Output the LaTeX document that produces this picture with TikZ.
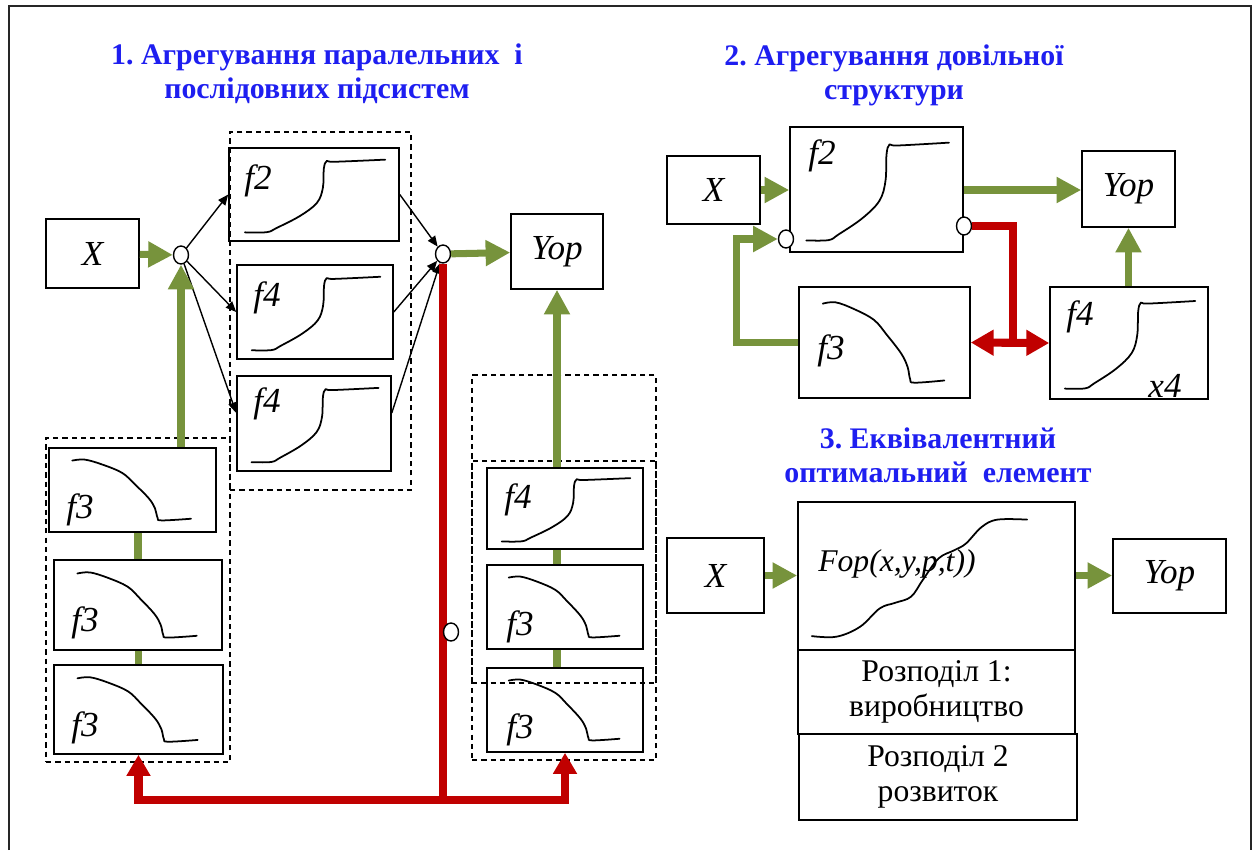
\documentclass[tikz,border=0pt]{standalone}
\usepackage{fontspec}
\setmainfont{Liberation Serif}
\usepackage{xcolor}
\usetikzlibrary{arrows.meta,fit,calc,shapes.geometric}

\definecolor{ttlblue}{RGB}{30,30,240}
\definecolor{fgreen}{RGB}{119,147,60}
\definecolor{fred}{RGB}{192,0,0}

% transfer curves, drawn in a unit box (y grows downwards)
\tikzset{
  sketchline/.style={line width=1pt, line cap=round},
  rise/.pic={\draw[sketchline] plot[smooth, tension=0.6] coordinates {(0.094,0.907) (0.222,0.905) (0.280,0.860) (0.418,0.730) (0.517,0.590) (0.552,0.430) (0.558,0.220) (0.575,0.140) (0.620,0.148) (0.919,0.125)};},
  fall/.pic={\draw[sketchline] plot[smooth, tension=0.6] coordinates {(0.139,0.150) (0.214,0.138) (0.321,0.198) (0.438,0.296) (0.513,0.430) (0.598,0.600) (0.635,0.720) (0.650,0.830) (0.675,0.862) (0.850,0.842)};},
  scurve/.pic={\draw[sketchline] plot[smooth, tension=0.6] coordinates {(0.050,0.906) (0.139,0.910) (0.224,0.843) (0.295,0.719) (0.351,0.681) (0.408,0.640) (0.450,0.528) (0.507,0.382) (0.564,0.326) (0.606,0.281) (0.663,0.169) (0.720,0.119) (0.827,0.119)};}
}

\begin{document}
\frenchspacing
\begin{tikzpicture}[
  x=0.02cm, y=-0.02cm,
  box/.style={draw, line width=0.9pt, inner sep=0pt},
  grp/.style={draw, line width=0.7pt, dash pattern=on 3pt off 2.3pt, inner sep=0pt},
  lbl/.style={font=\fontsize{20}{22}\selectfont\itshape, inner sep=0pt},
  txt/.style={font=\fontsize{18}{19.5}\selectfont, align=center},
  ttl/.style={font=\fontsize{17}{19.5}\selectfont\bfseries, text=ttlblue, align=center},
  jn/.style={draw, ellipse, fill=white, line width=0.8pt, inner sep=0pt, minimum width=0.3cm, minimum height=0.36cm},
  gline/.style={draw=fgreen, line width=4pt},
  garrow/.style={gline, -{Triangle[length=14pt, width=14pt]}},
  rline/.style={draw=fred, line width=4.6pt},
  rarrow/.style={rline, -{Triangle[length=12pt, width=13pt]}},
  farrow/.style={draw, line width=0.8pt, -{Triangle[length=6pt, width=5pt]}}
]
\useasboundingbox (0,0) rectangle (1255,850);
\draw[line width=1.2pt, black!85] (9,850) -- (9,6) -- (1251,6) -- (1251,850);

% 1. parallel and serial subsystems
\node[ttl] (t1) at (317,74) {1. Агрегування паралельних\ \ і\\послідовних підсистем};
\node[box, fit={(46,219) (139,288)}, label={[lbl]center:X}] (xa) {};
\node[jn] (ja) at (181,255) {};
\node[grp, fit={(230,132) (411,490)}] (para) {};
\node[box, fit={(229,148) (399,241)}] (f2a) {};
\node[box, fit={(237,265) (393,359)}] (f4a) {};
\node[box, fit={(237,376) (391,471)}] (f4b) {};
\node[jn] (jb) at (443,254) {};
\node[box, fit={(511,214) (603,289)}, label={[lbl]center:Yop}] (ya) {};

\node[grp, fit={(46,438) (230,762)}] (stl) {};
\node[box, fit={(49,448) (216,532)}] (f3a) {};
\node[box, fit={(54,560) (222,650)}] (f3b) {};
\node[box, fit={(54,665) (223,754)}] (f3c) {};

\node[grp, fit={(472,375) (656,683)}] (str1) {};
\node[grp, fit={(472,461) (656,760)}] (str2) {};
\node[box, fit={(487,468) (643,549)}] (f4c) {};
\node[box, fit={(487,565) (643,649)}] (f3d) {};
\node[box, fit={(487,668) (643,752)}] (f3e) {};

\pic[xscale=170, yscale=93] at (229,148) {rise};
\pic[xscale=156, yscale=94] at (237,265) {rise};
\pic[xscale=154, yscale=95] at (237,376) {rise};
\pic[xscale=167, yscale=84] at (49,448) {fall};
\pic[xscale=168, yscale=90] at (54,560) {fall};
\pic[xscale=169, yscale=89] at (54,665) {fall};
\pic[xscale=156, yscale=81] at (487,468) {rise};
\pic[xscale=156, yscale=84] at (487,565) {fall};
\pic[xscale=156, yscale=84] at (487,668) {fall};

\node[lbl] (lf2a) at (258,181) {f2};
\node[lbl] (lf4a) at (267,298) {f4};
\node[lbl] (lf4b) at (267,404) {f4};
\node[lbl] (lf3a) at (80,510) {f3};
\node[lbl] (lf3b) at (85,623) {f3};
\node[lbl] (lf3c) at (85,728) {f3};
\node[lbl] (lf4c) at (518,500) {f4};
\node[lbl] (lf3d) at (520,627) {f3};
\node[lbl] (lf3e) at (520,730) {f3};

\draw[garrow] (xa) -- (ja);
\draw[farrow] (ja) -- (f2a.west);
\draw[farrow] (ja) -- (f4a.west);
\draw[farrow] (ja) -- ([yshift=6pt]f4b.west);
\draw[farrow] (f2a.east) -- (jb);
\draw[farrow] (f4a.east) -- (jb);
\draw[farrow] ([yshift=6pt]f4b.east) -- (jb);
\draw[garrow] (jb) -- (ya);
\draw[garrow] (ja |- f3a.north) -- (ja.south);
\draw[gline] (f3b.north |- f3a.south) -- (f3b.north);
\draw[gline] (f3c.north |- f3b.south) -- (f3c.north);
\draw[gline] (ya.south |- f4c.south) -- (ya.south |- f3d.north);
\draw[gline] (ya.south |- f3d.south) -- (ya.south |- f3e.north);
\draw[garrow] (ya.south |- f4c.north) -- (ya.south);

\coordinate (rb) at (443,800);
\draw[rarrow] (jb.south) -- (rb) -| (f3c.south);
\draw[rarrow] (rb) -| (f3e.south);
\node[jn] (jc) at (451,632) {};

% 2. arbitrary structure
\node[ttl] (t2) at (894,75) {2. Агрегування довільної\\структури};
\node[box, fit={(667,156) (760,224)}, label={[lbl]center:X}] (xb) {};
\node[box, fit={(790,127) (963,252)}] (f2b) {};
\node[box, fit={(1082,151) (1175,227)}, label={[lbl]center:Yop}] (yb) {};
\node[box, fit={(799,287) (970,398)}] (f3f) {};
\node[box, fit={(1050,287) (1208,399)}] (f4d) {};
\pic[xscale=173, yscale=125] at (790,127) {rise};
\pic[xscale=171, yscale=111] at (799,287) {fall};
\pic[xscale=158, yscale=112] at (1050,287) {rise};
\node[lbl] (lf2b) at (822,156) {f2};
\node[lbl] (lf3f) at (831,351) {f3};
\node[lbl] (lf4d) at (1080,317) {f4};
\node[lbl] (lx4) at (1165,386) {x4};
\node[jn] (jd) at (786,239) {};
\node[jn] (je) at (964,226) {};

\draw[garrow] (xb) -- (xb -| f2b.west);
\draw[garrow] (f2b.east |- xb) -- (yb.west |- xb);
\draw[garrow] (f3f.west) -- ++(-62,0) |- (jd.west);
\coordinate (rj) at (1013,342.5);
\draw[rline] (je.east) -| (rj);
\draw[rline, {Triangle[length=13pt, width=14pt]}-{Triangle[length=13pt, width=14pt]}] (f3f.east) -- (f4d.west);
\draw[garrow] (f4d.north -| yb) -- (yb.south);

% 3. equivalent optimal element
\node[ttl] (t3) at (938,455) {3. Еквівалентний\\оптимальний\ \ елемент};
\node[box, fit={(667,538) (764,613)}, label={[lbl]center:X}] (xc) {};
\node[box, fit={(798,502) (1075,650)}] (fop) {};
\pic[xscale=277, yscale=148] at (798,502) {scurve};
\node[lbl, font=\fontsize{18}{20}\selectfont\itshape, anchor=west] (lfop) at (818,564) {Fop(x,y,p,t))};
\node[box, fit={(798,650) (1075,734)}, label={[txt]center:Розподіл 1:\\виробництво}] (d1) {};
\node[box, fit={(799,734) (1077,820)}, label={[txt]center:Розподіл 2\\розвиток}] (d2) {};
\node[box, fit={(1113,539) (1226,613)}, label={[lbl]center:Yop}] (yc) {};
\draw[garrow] (xc) -- (xc -| fop.west);
\draw[garrow] (fop.east |- xc) -- (yc.west |- xc);
\end{tikzpicture}
\end{document}
